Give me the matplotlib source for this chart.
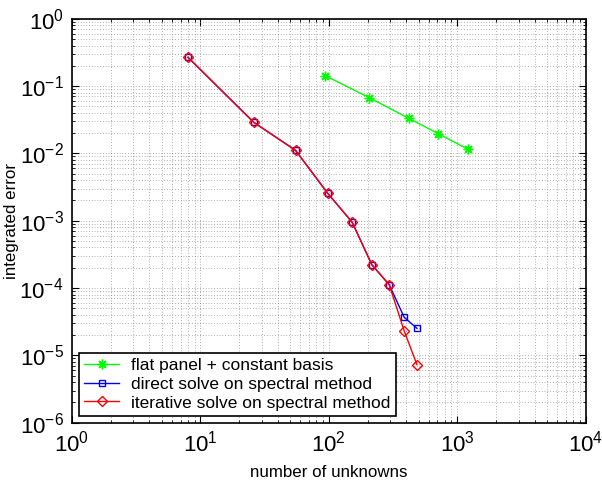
import matplotlib.pyplot as plt

plt.rcParams['font.family'] = ['Liberation Sans', 'DejaVu Sans']
plt.rcParams['mathtext.fontset'] = 'custom'
plt.rcParams['mathtext.rm'] = 'Liberation Sans'

# flat panel + constant basis
flat_n = [94, 207, 418, 711, 1210]
flat_err = [0.142, 0.067, 0.0332, 0.0196, 0.0115]

# direct solve on spectral method
direct_n = [8, 26, 55, 98, 152, 216, 295, 386, 485]
direct_err = [0.267, 0.0289, 0.0111, 0.00255, 0.000946, 0.000222, 0.000112, 3.67e-5, 2.52e-5]

# iterative solve on spectral method
iter_n = [8, 26, 55, 98, 152, 216, 295, 386, 485]
iter_err = [0.267, 0.0289, 0.0111, 0.00255, 0.000946, 0.000222, 0.000112, 2.30e-5, 7.26e-6]

fig = plt.figure(figsize=(6.02, 4.80), dpi=100)
ax = fig.add_axes([0.1196, 0.1194, 0.8534, 0.8416])

ax.loglog(flat_n, flat_err, '-', marker=(8, 2, 0), color='#00ff00', lw=1, ms=7,
          label='flat panel + constant basis')
ax.loglog(direct_n, direct_err, '-s', color='blue', lw=1, ms=5, mfc='none',
          label='direct solve on spectral method')
ax.loglog(iter_n, iter_err, '-D', color='red', lw=1, ms=5, mfc='none',
          label='iterative solve on spectral method')

ax.set_xlim(1, 1e4)
ax.set_ylim(1e-6, 1)
ax.set_xticks([1, 10, 100, 1000, 10000])
ax.set_yticks([1e-6, 1e-5, 1e-4, 1e-3, 1e-2, 1e-1, 1])

ax.grid(True, which='both', linestyle=(0, (1, 3)), color='0.4', linewidth=0.5)
ax.tick_params(which='both', direction='in', top=True, right=True)
ax.tick_params(which='major', length=5, labelsize=16, pad=6)
ax.tick_params(which='minor', length=2.5)
for s in ax.spines.values():
    s.set_linewidth(1.2)

ax.set_xlabel('number of unknowns', fontsize=12.2, labelpad=6)
ax.set_ylabel('integrated error', fontsize=12.2, labelpad=0)

leg = ax.legend(loc='lower left', fontsize=12.5, fancybox=False, framealpha=1,
                edgecolor='black', borderaxespad=0.4, handlelength=2.0,
                labelspacing=0.2, borderpad=0.3, handletextpad=0.7)
leg.get_frame().set_linewidth(1.2)

fig.savefig('out.png', dpi=100)
